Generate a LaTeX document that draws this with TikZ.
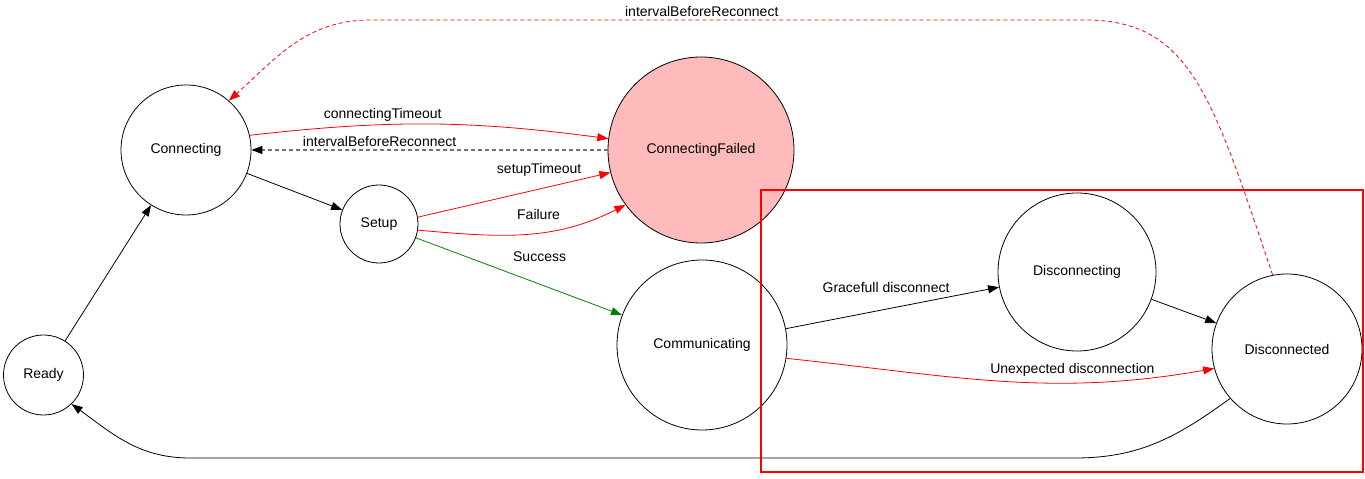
\documentclass[tikz,border=0pt]{standalone}
\usepackage{fontspec}
\setmainfont{Liberation Sans}
\usetikzlibrary{automata, arrows.meta}
\definecolor{failpink}{RGB}{255,187,187}
\definecolor{okgreen}{RGB}{0,128,0}
\tikzset{>={Triangle[length=11pt,width=8pt]}, % Filled block heads
every state/.style={ % Sets the properties for each state
line width=0.8pt,
inner sep=0pt},
every edge/.style={ % Sets the properties for each transition
draw,->,
line width=0.8pt},
lbl/.style={inner sep=0pt, text=black}, % Transition labels
retry/.style={dash pattern=on 4pt off 3pt}}

\begin{document}
\begin{tikzpicture}[x=1pt, y=1pt, line width=0.8pt, font=\fontsize{14}{16}\selectfont]
    \useasboundingbox (0,0) rectangle (1365,479);

    \node[state, minimum size=80pt] (ready) at (43.5,104) {Ready};
    \node[state, minimum size=130pt] (connecting) at (186,329) {Connecting};
    \node[state, minimum size=78pt] (setup) at (379,255) {Setup};
    \node[state, minimum size=186pt, fill=failpink] (failed) at (701,329) {ConnectingFailed};
    \node[state, minimum size=170pt] (communicating) at (702,134) {Communicating};
    \node[state, minimum size=158pt] (disconnecting) at (1077,207) {Disconnecting};
    \node[state, minimum size=150pt] (disconnected) at (1287,130) {Disconnected};

    \draw (ready) edge (connecting);
    \draw (connecting.13) edge[red, bend left=7] node[lbl, pos=0.36, above=3pt] {connectingTimeout} (failed.173);
    \draw (failed) edge[black!55, line width=1.2pt, retry, -{Triangle[length=11pt,width=8pt,color=black]}] node[lbl, pos=0.64, above=3pt] {intervalBeforeReconnect} (connecting);
    \draw (connecting) edge (setup);
    \draw (setup.10) edge[red] node[lbl, pos=0.63, above=12pt] {setupTimeout} (failed.194);
    \draw (setup.-9) edge[red, out=-5, in=207] node[lbl, pos=0.57, above=13pt] {Failure} (failed.216);
    \draw (setup) edge[okgreen] node[lbl, pos=0.6, above=22pt] {Success} (communicating);
    \draw (communicating) edge node[lbl, pos=0.47, above=16pt] {Gracefull disconnect} (disconnecting);
    \draw (disconnecting) edge (disconnected);
    \draw (communicating.-9) edge[red, out=-6, in=190] node[lbl, pos=0.68, above=6pt] {Unexpected disconnection} (disconnected.195);

    % back to the start
    \draw[->, red, retry] (disconnected.101) .. controls (1212,384) and (1190,459) .. (1085,459)
        -- node[lbl, pos=0.536, above=3pt] {intervalBeforeReconnect} (370,459)
        to[out=180, in=42] (connecting.49);
    \draw[->] (disconnected.221) to[out=216, in=0] (1075,21) -- (190,21) to[out=180, in=-36] (ready.-46);

    \draw[red, line width=2.5pt] (761,7) rectangle (1363,289);

\end{tikzpicture}
\end{document}
